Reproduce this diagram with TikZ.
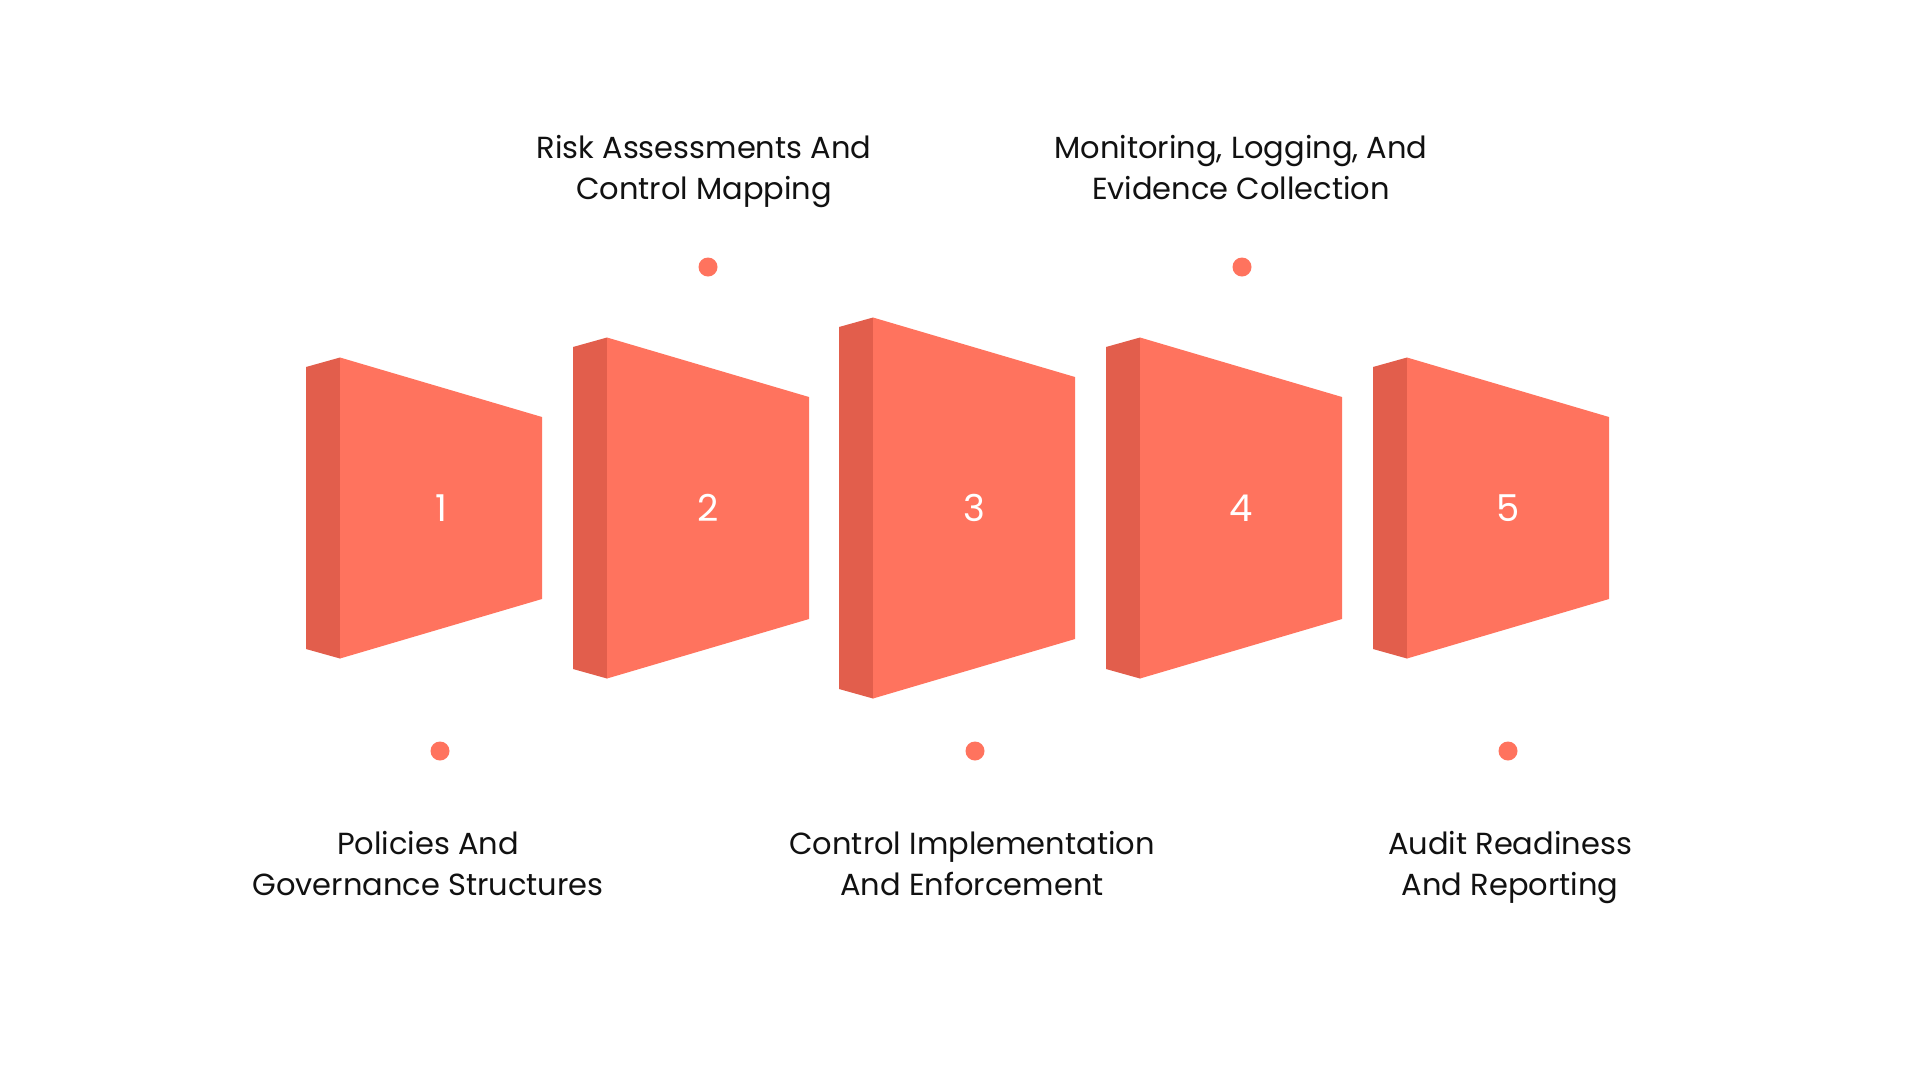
\documentclass[tikz,border=0pt]{standalone}
\usepackage{fontspec}
\setmainfont{Poppins}
\usepackage{tikz}
\usetikzlibrary{positioning, calc}
\definecolor{block_front}{HTML}{FF735E}
\definecolor{block_side}{HTML}{E25E4C}
\definecolor{label_ink}{HTML}{111111}
\tikzset{
  front_face/.style={fill=block_front},
  side_face/.style={fill=block_side},
  step_number/.style={text=white, font=\fontsize{37}{40}\selectfont},
  dot_marker/.style={circle, fill=block_front, minimum size=19pt, inner sep=0pt},
  label_text/.style={text=label_ink, align=center, inner sep=0pt, font=\fontsize{30.5}{41.6}\selectfont,
    execute at begin node=\strut, execute at end node=\strut}
}

\begin{document}
\begin{tikzpicture}[x=1pt, y=-1pt]
  % --- Page ---
  \fill[white] (0,0) rectangle (1920,1080);
  \useasboundingbox (0,0) rectangle (1920,1080);

  % --- Blocks ---
  % side panel first, then the tapered front face
  \fill[side_face] (306,367) -- (340,357.5) -- (340,658.5) -- (306,649) -- cycle;
  \fill[front_face] (340,357.5) -- (542,417) -- (542,599) -- (340,658.5) -- cycle;

  \fill[side_face] (573,347) -- (607,337.5) -- (607,678.5) -- (573,669) -- cycle;
  \fill[front_face] (607,337.5) -- (809,397) -- (809,619) -- (607,678.5) -- cycle;

  \fill[side_face] (839,327) -- (873,317.5) -- (873,698.5) -- (839,689) -- cycle;
  \fill[front_face] (873,317.5) -- (1075,377) -- (1075,639) -- (873,698.5) -- cycle;

  \fill[side_face] (1106,347) -- (1140,337.5) -- (1140,678.5) -- (1106,669) -- cycle;
  \fill[front_face] (1140,337.5) -- (1342,397) -- (1342,619) -- (1140,678.5) -- cycle;

  \fill[side_face] (1373,367) -- (1407,357.5) -- (1407,658.5) -- (1373,649) -- cycle;
  \fill[front_face] (1407,357.5) -- (1609,417) -- (1609,599) -- (1407,658.5) -- cycle;

  % --- Numbers ---
  \node[step_number] (num1) at (441,508) {1};
  \node[step_number] (num2) at (708,508) {2};
  \node[step_number] (num3) at (974,508) {3};
  \node[step_number] (num4) at (1241,508) {4};
  \node[step_number] (num5) at (1508,508) {5};

  % --- Dots ---
  \node[dot_marker] (dot1) at (440,751) {};
  \node[dot_marker] (dot2) at (708,267) {};
  \node[dot_marker] (dot3) at (975,751) {};
  \node[dot_marker] (dot4) at (1242,267) {};
  \node[dot_marker] (dot5) at (1508,751) {};

  % --- Labels ---
  \node[label_text] (label1) at (428,869.5) {Policies And\\Governance Structures};
  \node[label_text] (label2) at (704,173.5) {Risk Assessments And\\Control Mapping};
  \node[label_text] (label3) at (972,869.5) {Control Implementation\\And Enforcement};
  \node[label_text] (label4) at (1241,173.5) {Monitoring, Logging, And\\Evidence Collection};
  \node[label_text] (label5) at (1510,869.5) {Audit Readiness\\And Reporting};
\end{tikzpicture}
\end{document}
